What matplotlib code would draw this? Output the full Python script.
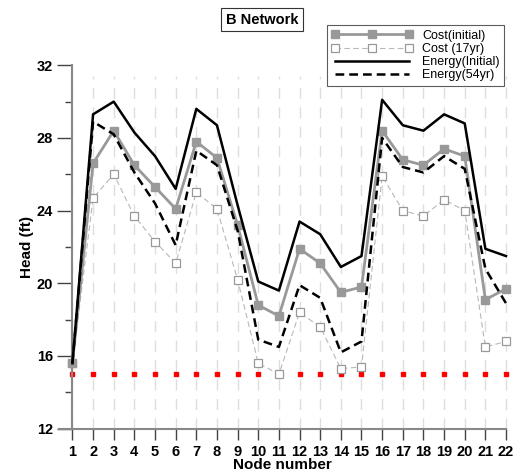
import numpy as np
import matplotlib
matplotlib.use('Agg')
import matplotlib.pyplot as plt
from matplotlib.ticker import MultipleLocator

plt.rcParams['font.family'] = ['Liberation Sans', 'DejaVu Sans']

# 読み取ったデータ
nodes = np.arange(1, 23)
cost_initial = [15.6, 26.6, 28.4, 26.5, 25.3, 24.1, 27.8, 26.9, 23.2, 18.8, 18.2,
                21.9, 21.1, 19.5, 19.8, 28.4, 26.8, 26.5, 27.4, 27.0, 19.1, 19.7]
cost_17yr = [15.6, 24.7, 26.0, 23.7, 22.3, 21.1, 25.0, 24.1, 20.2, 15.6, 15.0,
             18.4, 17.6, 15.3, 15.4, 25.9, 24.0, 23.7, 24.6, 24.0, 16.5, 16.8]
energy_initial = [15.6, 29.3, 30.0, 28.3, 27.0, 25.2, 29.6, 28.7, 24.3, 20.1, 19.6,
                  23.4, 22.7, 20.9, 21.5, 30.1, 28.7, 28.4, 29.3, 28.8, 21.9, 21.5]
energy_54yr = [15.6, 28.9, 28.2, 26.1, 24.4, 22.1, 27.3, 26.5, 22.9, 16.9, 16.5,
               19.9, 19.2, 16.2, 16.8, 28.0, 26.4, 26.1, 27.0, 26.3, 20.8, 18.9]
min_head = 15.0

fig = plt.figure(figsize=(5.19, 4.73), dpi=100)
ax = fig.add_axes([0.1137, 0.0937, 0.975 - 0.1137, 0.862 - 0.0937])

# グリッド（縦の破線）
for n in nodes:
    ax.plot([n, n], [12, 31.4], color='#dedede', lw=1, ls=(0, (8, 6)), zorder=0, clip_on=False)

ax.plot(nodes, [min_head] * len(nodes), ls='none', marker='s', ms=3,
        color='#ff0000', zorder=2, clip_on=False)

ax.plot(nodes, cost_17yr, color='#b8b8b8', lw=0.8, ls=(0, (5, 3)), marker='s', ms=5.2,
        mfc='white', mec='#999999', mew=0.9, label='Cost (17yr)', zorder=3, clip_on=False)
ax.plot(nodes, cost_initial, color='#999999', lw=2, marker='s', ms=5.4,
        mfc='#999999', mec='#999999', label='Cost(initial)', zorder=4, clip_on=False)
ax.plot(nodes, energy_initial, color='black', lw=1.8, label='Energy(Initial)',
        zorder=5, clip_on=False)
ax.plot(nodes, energy_54yr, color='black', lw=1.8, ls=(0, (3.5, 2)), label='Energy(54yr)',
        zorder=5, clip_on=False)

ax.set_xlim(0.35, 22)
ax.set_ylim(12, 32)
ax.set_xticks(nodes)
ax.yaxis.set_major_locator(MultipleLocator(4))
ax.yaxis.set_minor_locator(MultipleLocator(2))

for s in ['top', 'right']:
    ax.spines[s].set_visible(False)
ax.spines['left'].set_position(('data', 1))
ax.spines['left'].set_color('#888888')
ax.spines['left'].set_linewidth(1.5)
ax.spines['bottom'].set_color('#888888')
ax.spines['bottom'].set_linewidth(1.5)

ax.tick_params(axis='x', direction='out', length=8, width=1, color='#444444', pad=4)
ax.tick_params(axis='y', which='major', direction='out', length=11, width=1, color='#444444', pad=3)
ax.tick_params(axis='y', which='minor', direction='out', length=5, width=1, color='#444444')
for lbl in ax.get_xticklabels() + ax.get_yticklabels():
    lbl.set_fontweight('bold')
    lbl.set_fontsize(10.5)

ax.set_xlabel('Node number', fontsize=11, fontweight='bold', labelpad=-1)
ax.set_ylabel('Head (ft)', fontsize=11, fontweight='bold', labelpad=2)

handles, labels = ax.get_legend_handles_labels()
order = [1, 0, 2, 3]
leg = ax.legend([handles[i] for i in order], [labels[i] for i in order],
                loc='upper right', bbox_to_anchor=(1.01, 1.127), numpoints=3,
                handlelength=6.5, fontsize=9, frameon=True, fancybox=False,
                edgecolor='#333333', borderpad=0.35, labelspacing=0.1, handletextpad=0.8)
leg.get_frame().set_linewidth(0.8)

fig.text(0.505, 0.958, 'B Network', ha='center', va='center', fontsize=10.5, fontweight='bold',
         bbox=dict(boxstyle='square,pad=0.3', fc='white', ec='#333333', lw=0.8))

fig.savefig('out.png', dpi=100)
